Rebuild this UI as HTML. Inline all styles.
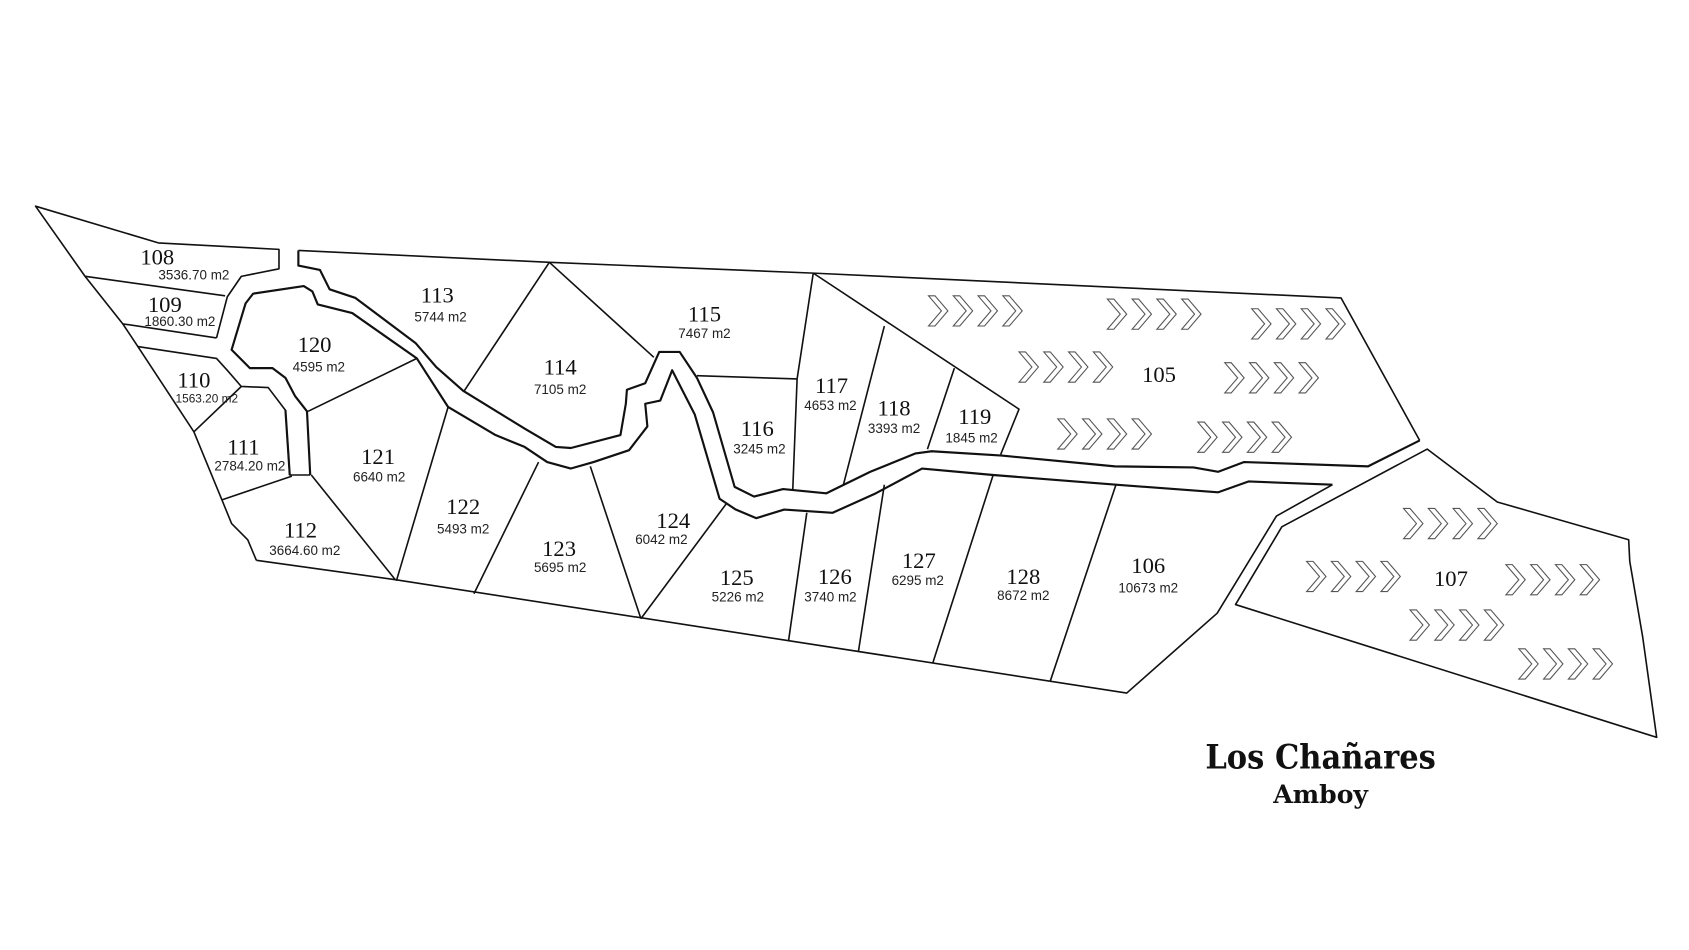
<!DOCTYPE html>
<html><head><meta charset="utf-8"><style>
html,body{margin:0;padding:0;background:#fff;}
svg{display:block;}
.n{font-family:"Liberation Serif",serif;font-size:21px;fill:#111;text-anchor:middle;}
.a{font-family:"Liberation Sans",sans-serif;font-size:12.5px;fill:#222;text-anchor:middle;}
</style></head><body>
<svg width="1689" height="950" viewBox="0 0 1568 880" preserveAspectRatio="none" xmlns="http://www.w3.org/2000/svg">
<defs>
<polygon id="c" points="0,0 6,0 18,14 6,28 0,28 12,14" fill="#fff" stroke="#555" stroke-width="1"/>
<g id="g4"><use href="#c" x="0"/><use href="#c" x="23"/><use href="#c" x="46"/><use href="#c" x="69"/></g>
</defs>
<g fill="none" stroke="#111" stroke-width="1.5" stroke-linejoin="round">
<!-- outer left/top -->
<polyline points="238,519 230,500 215,485 206,463 180,400 128,321 114,300 79,256 33,191 147,225 259,231 259,249 224,256 211,275 201,313"/>
<polyline points="277,232 510,243 755,253 1245,276 1318,408"/>
<polyline points="238,519 367,537 1046,642 1130,568 1185,478 1237,449"/>
<polygon points="1325,416 1390,465 1512,500 1513,520 1525,590 1538,683 1147,560 1190,488"/>
<!-- left branch west side -->
<polyline points="128,321 201,332 211,343 224,358 249,359 265,380 269,440 288,440"/>
<!-- road upper edge -->
<polyline stroke-width="2" points="277,232 277,246 297,250 306,268 330,276 386,318 405,340 430,362 487,397 516,414 530,415 576,403 581,374 582,361 599,355 612,326 631,326 647,350 662,382 682,451 700,460 727,453 767,457 808,437 850,420 865,418 930,422 1035,432 1108,433 1131,437 1155,428 1270,432 1318,408"/>
<!-- road lower edge -->
<polyline stroke-width="2" points="288,440 285,381 274,367 265,350 253,341 232,341 215,324 228,281 235,272 282,265 290,270 295,282 327,290 387,332 416,377 460,403 487,414 508,428 530,434 551,428 584,417 601,395 599,374 613,371 624,343 645,384 668,462 683,472 702,480 728,472 773,475 813,457 856,434 922,440 1036,449 1131,456 1159,446 1237,449"/>
<polyline stroke-width="2" points="269,440 265,380"/>
<!-- divisions -->
<line x1="79" y1="256" x2="209" y2="274"/>
<line x1="114" y1="300" x2="201" y2="313"/>
<line x1="224" y1="358" x2="180" y2="400"/>
<line x1="206" y1="463" x2="271" y2="441"/>
<line x1="289" y1="440" x2="367" y2="537"/>
<line x1="387" y1="332" x2="286" y2="381"/>
<line x1="510" y1="243" x2="431" y2="362"/>
<line x1="510" y1="243" x2="607" y2="331"/>
<line x1="647" y1="348" x2="740" y2="351"/>
<polyline points="755,253 740,351 736,453"/>
<line x1="821" y1="302" x2="783" y2="449"/>
<line x1="886" y1="341" x2="861" y2="416"/>
<polyline points="755,253 946,379 929,421"/>
<line x1="416" y1="377" x2="368" y2="538"/>
<line x1="500" y1="428" x2="440" y2="550"/>
<line x1="548" y1="432" x2="595" y2="573"/>
<line x1="674" y1="467" x2="595" y2="573"/>
<line x1="749" y1="475" x2="732" y2="594"/>
<line x1="821" y1="449" x2="797" y2="603"/>
<line x1="922" y1="440" x2="866" y2="614"/>
<line x1="1036" y1="449" x2="975" y2="631"/>
</g>
<!-- chevrons -->
<use href="#g4" x="862" y="274"/><use href="#g4" x="1028" y="277"/><use href="#g4" x="1162" y="286"/>
<use href="#g4" x="946" y="326"/><use href="#g4" x="1137" y="336"/>
<use href="#g4" x="982" y="388"/><use href="#g4" x="1112" y="391"/>
<use href="#g4" x="1303" y="471"/>
<use href="#g4" x="1213" y="520"/><use href="#g4" x="1398" y="523"/>
<use href="#g4" x="1309" y="565"/>
<use href="#g4" x="1410" y="601"/>
<!-- labels -->
<text class="n" x="146" y="245">108</text><text class="a" x="180" y="259">3536.70 m2</text>
<text class="n" x="153" y="289">109</text><text class="a" x="167" y="302">1860.30 m2</text>
<text class="n" x="180" y="359">110</text><text class="a" x="192" y="373" style="font-size:11px">1563.20 m2</text>
<text class="n" x="226" y="421">111</text><text class="a" x="232" y="436">2784.20 m2</text>
<text class="n" x="279" y="498">112</text><text class="a" x="283" y="514">3664.60 m2</text>
<text class="n" x="406" y="280">113</text><text class="a" x="409" y="298">5744 m2</text>
<text class="n" x="520" y="347">114</text><text class="a" x="520" y="365">7105 m2</text>
<text class="n" x="654" y="298">115</text><text class="a" x="654" y="313">7467 m2</text>
<text class="n" x="703" y="404">116</text><text class="a" x="705" y="420">3245 m2</text>
<text class="n" x="772" y="364">117</text><text class="a" x="771" y="380">4653 m2</text>
<text class="n" x="830" y="385">118</text><text class="a" x="830" y="401">3393 m2</text>
<text class="n" x="905" y="393">119</text><text class="a" x="902" y="410">1845 m2</text>
<text class="n" x="292" y="326">120</text><text class="a" x="296" y="344">4595 m2</text>
<text class="n" x="351" y="430">121</text><text class="a" x="352" y="446">6640 m2</text>
<text class="n" x="430" y="476">122</text><text class="a" x="430" y="494">5493 m2</text>
<text class="n" x="519" y="515">123</text><text class="a" x="520" y="530">5695 m2</text>
<text class="n" x="625" y="489">124</text><text class="a" x="614" y="504">6042 m2</text>
<text class="n" x="684" y="542">125</text><text class="a" x="685" y="557">5226 m2</text>
<text class="n" x="775" y="541">126</text><text class="a" x="771" y="557">3740 m2</text>
<text class="n" x="853" y="526">127</text><text class="a" x="852" y="542">6295 m2</text>
<text class="n" x="950" y="541">128</text><text class="a" x="950" y="556">8672 m2</text>
<text class="n" x="1066" y="531">106</text><text class="a" x="1066" y="549">10673 m2</text>
<text class="n" x="1076" y="354">105</text>
<text class="n" x="1347" y="543">107</text>
<text x="1226" y="712" text-anchor="middle" textLength="214" lengthAdjust="spacingAndGlyphs" style="font-family:'DejaVu Serif','Liberation Serif',serif;font-weight:bold;font-size:31px;fill:#111">Los Chañares</text>
<text x="1226" y="744" text-anchor="middle" textLength="88" lengthAdjust="spacingAndGlyphs" style="font-family:'DejaVu Serif','Liberation Serif',serif;font-weight:bold;font-size:23px;fill:#111">Amboy</text>
</svg>
</body></html>
